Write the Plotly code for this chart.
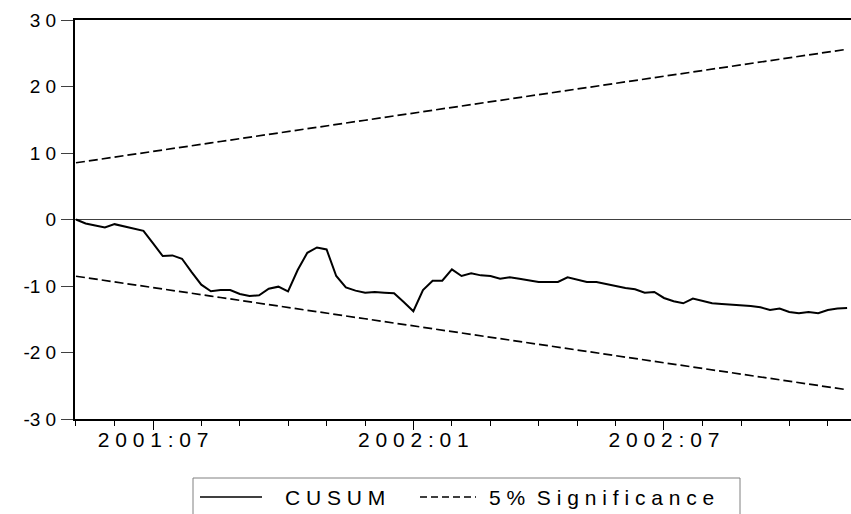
import pandas as pd
import plotly.graph_objects as go

start_week = "2001-05-06"
n_obs = 81

cusum = [0.0, -0.6, -0.9, -1.2, -0.7, -1.0, -1.4, -1.7, -3.6, -5.5,
         -5.4, -5.9, -7.9, -9.8, -10.8, -10.6, -10.6, -11.2, -11.5, -11.4,
         -10.4, -10.1, -10.8, -7.6, -5.0, -4.2, -4.5, -8.5, -10.2, -10.7,
         -11.0, -10.9, -11.0, -11.1, -12.4, -13.8, -10.6, -9.2, -9.2, -7.5,
         -8.5, -8.1, -8.4, -8.5, -8.9, -8.7, -8.9, -9.2, -9.4, -9.4,
         -9.4, -8.7, -9.1, -9.4, -9.4, -9.7, -10.1, -10.3, -10.5, -11.0,
         -10.9, -11.8, -12.3, -12.6, -11.9, -12.2, -12.6, -12.7, -12.8, -12.8,
         -13.0, -13.2, -13.6, -13.4, -13.9, -14.1, -13.9, -14.1, -13.6, -13.4,
         -13.3]

upper_5 = [8.53, 8.75, 8.96, 9.17, 9.39, 9.60, 9.81, 10.03, 10.24, 10.45,
           10.67, 10.88, 11.09, 11.31, 11.52, 11.73, 11.95, 12.16, 12.37, 12.59,
           12.80, 13.01, 13.23, 13.44, 13.65, 13.87, 14.08, 14.29, 14.51, 14.72,
           14.93, 15.15, 15.36, 15.57, 15.79, 16.00, 16.21, 16.43, 16.64, 16.85,
           17.06, 17.28, 17.49, 17.70, 17.92, 18.13, 18.34, 18.56, 18.77, 18.98,
           19.20, 19.41, 19.62, 19.84, 20.05, 20.26, 20.48, 20.69, 20.90, 21.12,
           21.33, 21.54, 21.76, 21.97, 22.18, 22.40, 22.61, 22.82, 23.04, 23.25,
           23.46, 23.68, 23.89, 24.10, 24.32, 24.53, 24.74, 24.96, 25.17, 25.38,
           25.60]

lower_5 = [-8.53, -8.75, -8.96, -9.17, -9.39, -9.60, -9.81, -10.03, -10.24, -10.45,
           -10.67, -10.88, -11.09, -11.31, -11.52, -11.73, -11.95, -12.16, -12.37, -12.59,
           -12.80, -13.01, -13.23, -13.44, -13.65, -13.87, -14.08, -14.29, -14.51, -14.72,
           -14.93, -15.15, -15.36, -15.57, -15.79, -16.00, -16.21, -16.43, -16.64, -16.85,
           -17.06, -17.28, -17.49, -17.70, -17.92, -18.13, -18.34, -18.56, -18.77, -18.98,
           -19.20, -19.41, -19.62, -19.84, -20.05, -20.26, -20.48, -20.69, -20.90, -21.12,
           -21.33, -21.54, -21.76, -21.97, -22.18, -22.40, -22.61, -22.82, -23.04, -23.25,
           -23.46, -23.68, -23.89, -24.10, -24.32, -24.53, -24.74, -24.96, -25.17, -25.38,
           -25.60]

NB = "\u00a0"
y_tick_vals = [-30, -20, -10, 0, 10, 20, 30]
y_tick_text = ["-3" + NB + "0", "-2" + NB + "0", "-1" + NB + "0", "0",
               "1" + NB + "0", "2" + NB + "0", "3" + NB + "0"]

major_months = ["2001-07", "2002-01", "2002-07"]
major_text = ["2 0 0 1 : 0 7", "2 0 0 2 : 0 1", "2 0 0 2 : 0 7"]

legend_names = ["C U S U M", "5 %  S i g n i f i c a n c e"]

# ---- build ----
weeks = pd.date_range(start_week, periods=n_obs, freq="7D")
wk = pd.Series(weeks)
first_in_month = wk.groupby(wk.dt.to_period("M")).min()
minor_vals = list(first_in_month.values)
major_vals = [first_in_month[pd.Period(m, "M")] for m in major_months]

FONT = "Liberation Sans, Arial, sans-serif"
DASH = "9px,4px"

fig = go.Figure()
fig.add_trace(go.Scatter(x=weeks, y=cusum, mode="lines", name=legend_names[0],
                         showlegend=False,
                         line=dict(color="black", width=2)))
fig.add_trace(go.Scatter(x=weeks, y=upper_5, mode="lines", name=legend_names[1],
                         showlegend=False,
                         line=dict(color="black", width=1.7, dash=DASH)))
fig.add_trace(go.Scatter(x=weeks, y=lower_5, mode="lines", name=legend_names[1],
                         showlegend=False,
                         line=dict(color="black", width=1.7, dash=DASH)))

x_lo = weeks[0] - pd.Timedelta(hours=17)
x_hi = weeks[-1] + pd.Timedelta(hours=68)

# legend box drawn below the plot (paper coordinates)
PLOT_L, PLOT_W, PLOT_B, PLOT_H = 75, 776, 419, 399
def px(x):
    return (x - PLOT_L) / PLOT_W
def py(y):
    return (PLOT_B - y) / PLOT_H

leg_y = 497
shapes = [
    dict(type="rect", xref="paper", yref="paper", x0=px(193), x1=px(740),
         y0=py(478), y1=py(530), line=dict(color="#808080", width=1),
         fillcolor="white", layer="above"),
    dict(type="line", xref="paper", yref="paper", x0=px(200), x1=px(262),
         y0=py(leg_y), y1=py(leg_y), line=dict(color="black", width=1.5)),
    dict(type="line", xref="paper", yref="paper", x0=px(420), x1=px(476),
         y0=py(leg_y), y1=py(leg_y), line=dict(color="black", width=1.5, dash="7px,4px")),
]
annotations = [
    dict(text=legend_names[0], xref="paper", yref="paper", x=px(283), y=py(leg_y),
         xanchor="left", yanchor="middle", showarrow=False,
         font=dict(size=21, family=FONT, color="black")),
    dict(text=legend_names[1], xref="paper", yref="paper", x=px(487), y=py(leg_y),
         xanchor="left", yanchor="middle", showarrow=False,
         font=dict(size=21, family=FONT, color="black")),
]

fig.update_layout(
    width=851, height=514,
    margin=dict(l=75, r=0, t=20, b=95),
    paper_bgcolor="white", plot_bgcolor="white",
    font=dict(family=FONT, color="black"),
    showlegend=False,
    shapes=shapes,
    annotations=annotations,
    xaxis=dict(
        type="date", range=[x_lo, x_hi], automargin=False,
        showgrid=False, zeroline=False,
        showline=True, linecolor="black", linewidth=2, mirror=True,
        tickmode="array", tickvals=major_vals, ticktext=major_text,
        ticks="outside", ticklen=9, tickwidth=1, tickcolor="black",
        tickfont=dict(size=21, family=FONT),
        ticklabelstandoff=-8,
        minor=dict(tickmode="array", tickvals=minor_vals, ticks="outside",
                   ticklen=5, tickwidth=1, tickcolor="black"),
    ),
    yaxis=dict(
        range=[-30, 30], showgrid=False, automargin=False,
        zeroline=True, zerolinecolor="#404040", zerolinewidth=1,
        showline=True, linecolor="black", linewidth=2, mirror=False,
        tickmode="array", tickvals=y_tick_vals, ticktext=y_tick_text,
        ticks="outside", ticklen=12, tickwidth=1, tickcolor="#404040",
        tickfont=dict(size=19, family=FONT),
        ticklabelstandoff=1,
    ),
)

fig.write_html("out.html",
               config={"displayModeBar": False, "staticPlot": True},
               post_script="document.body.style.margin='0';"
                           "document.body.style.overflow='hidden';")
